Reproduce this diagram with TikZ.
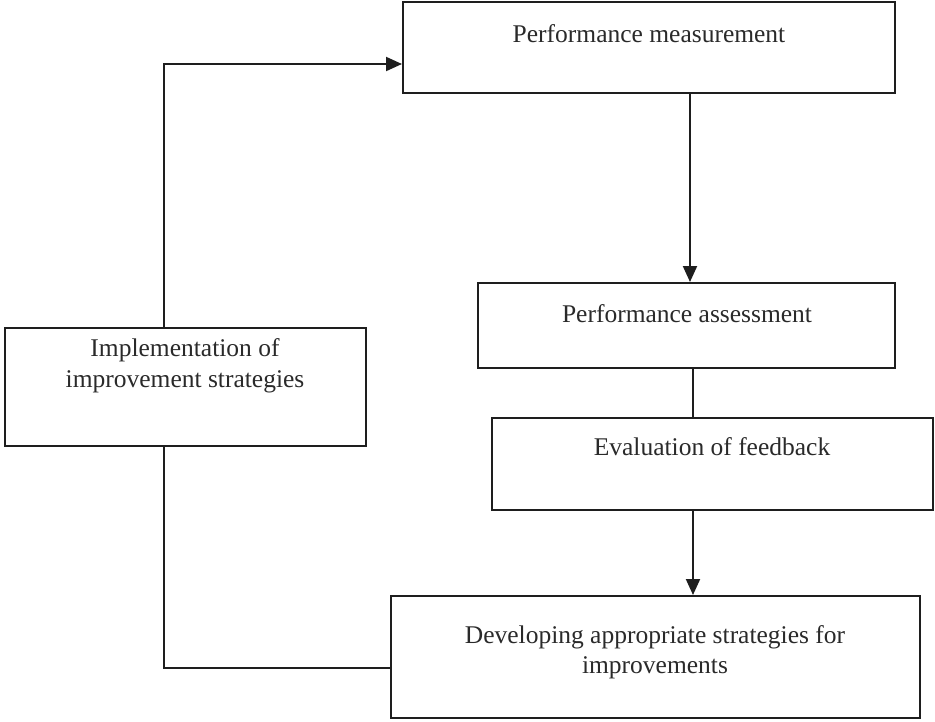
\documentclass[tikz,border=0pt]{standalone}
\usepackage{fontspec}
\setmainfont{Liberation Serif}
\usetikzlibrary{arrows.meta,calc}
\definecolor{ink}{HTML}{1E1E1E}
\definecolor{txt}{HTML}{2A2A2A}
\tikzset{
  boxnode/.style={draw=ink, line width=2pt, rectangle, inner sep=0pt, fill=none},
  lbl/.style={anchor=base, inner sep=0pt, text=txt, font=\fontsize{25.5}{30}\selectfont},
  conn/.style={draw=ink, line width=2pt},
  arr/.style={conn, -{Triangle[length=16pt,width=14pt]}}
}
\begin{document}
\begin{tikzpicture}[x=1pt,y=-1pt]
\useasboundingbox (0,0) rectangle (935,721);
% boxes
\node[boxnode, minimum width=492pt, minimum height=91pt] (b1) at (649,47.5) {};
\node[boxnode, minimum width=417pt, minimum height=85pt] (b2) at (686.5,325.5) {};
\node[boxnode, minimum width=441pt, minimum height=92pt] (b3) at (712.5,464) {};
\node[boxnode, minimum width=529pt, minimum height=122pt] (b4) at (655.5,657) {};
\node[boxnode, minimum width=361pt, minimum height=118pt] (b5) at (185.5,387) {};
% labels
\node[lbl] (t1) at (649,42) {Performance measurement};
\node[lbl] (t2) at (687,322) {Performance assessment};
\node[lbl] (t3) at (712,455) {Evaluation of feedback};
\node[lbl] (t4a) at (655,643) {Developing appropriate strategies for};
\node[lbl] (t4b) at (655,673) {improvements};
\node[lbl] (t5a) at (185,356) {Implementation of};
\node[lbl] (t5b) at (185,387) {improvement strategies};
% connectors
\draw[arr] ([xshift=-21.5pt]b5.north) |- ([yshift=-16.5pt]b1.west);
\draw[arr] ([xshift=41pt]b1.south) -- ([xshift=41pt]b1.south |- b2.north);
\draw[conn] ([xshift=6.5pt]b2.south) -- ([xshift=6.5pt]b2.south |- b3.north);
\draw[arr] ([xshift=-19.5pt]b3.south) -- ([xshift=-19.5pt]b3.south |- b4.north);
\draw[conn] ([yshift=-11pt]b4.west) -| ([xshift=-21.5pt]b5.south);
\end{tikzpicture}
\end{document}
